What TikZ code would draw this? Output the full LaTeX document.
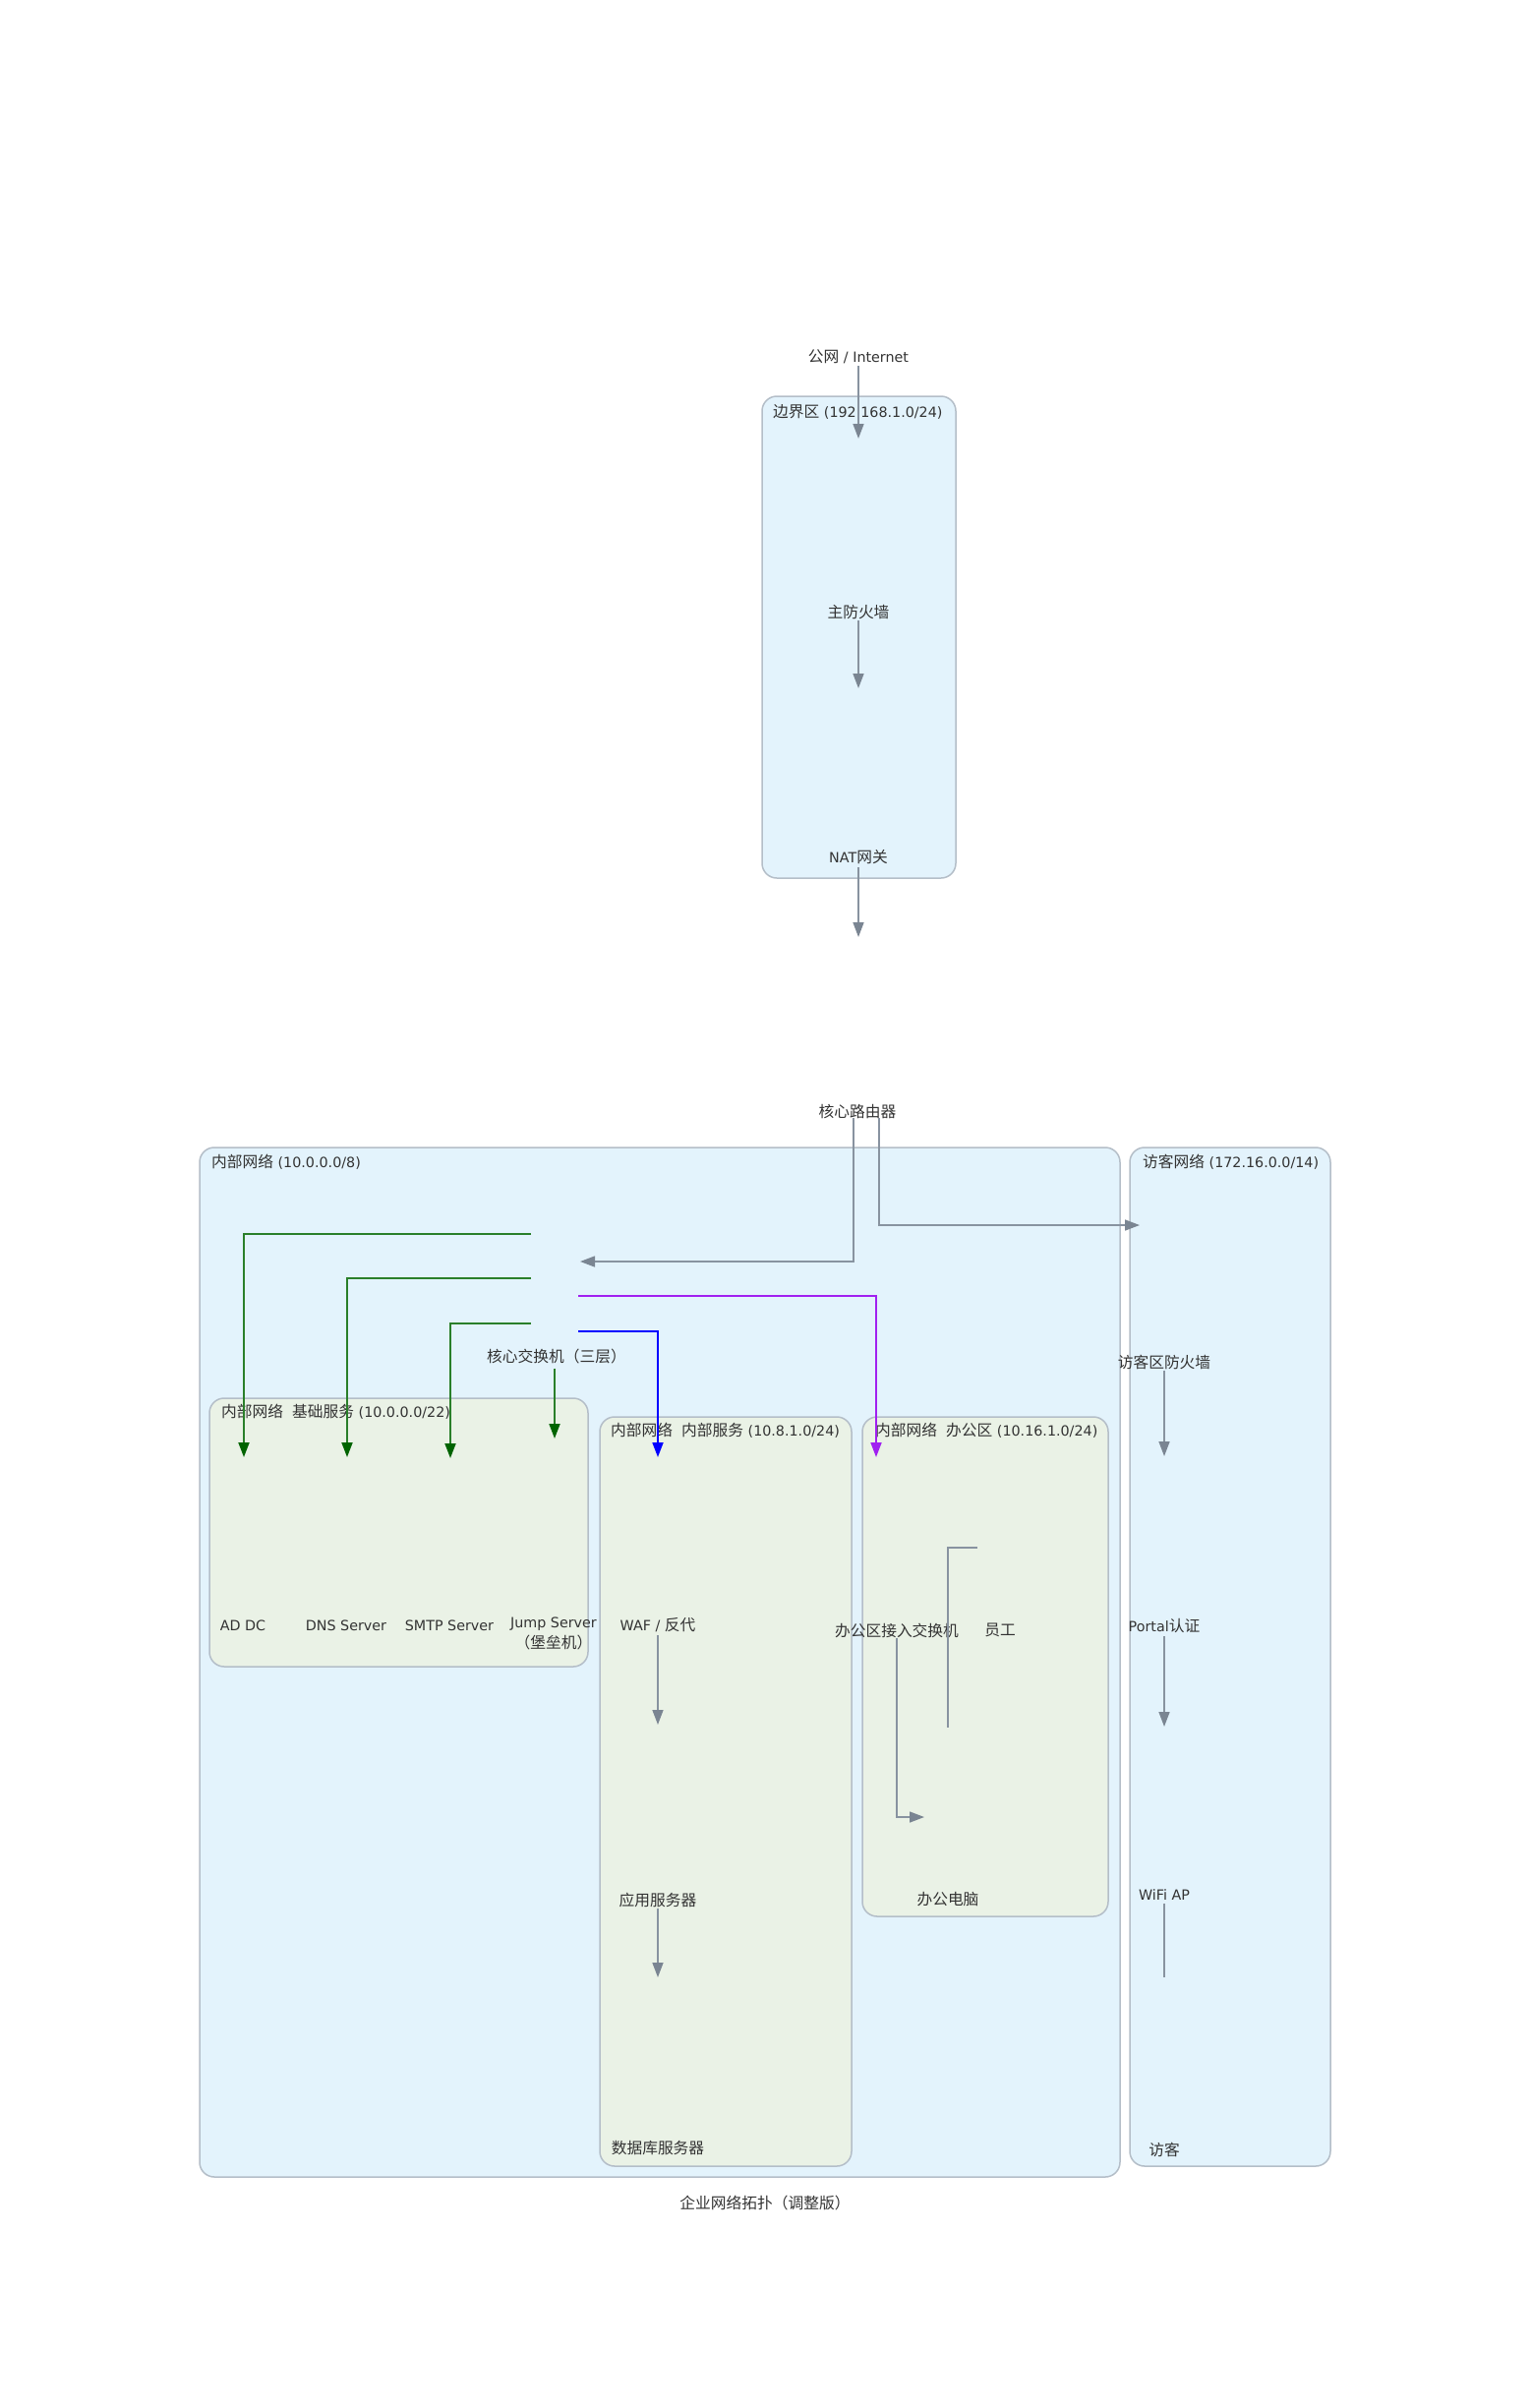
\documentclass[tikz,border=0pt]{standalone}
\usepackage{fontspec}
\setmainfont{DejaVu Sans}
\newfontfamily\cjk{Noto Sans CJK SC}[Scale=1.1]
\usetikzlibrary{arrows.meta}
\definecolor{outerfill}{HTML}{E3F3FC}
\definecolor{innerfill}{HTML}{EAF2E6}
\definecolor{boxline}{HTML}{B4BEC8}
\definecolor{edgegrey}{HTML}{8893A0}
\definecolor{tipgrey}{HTML}{7A8592}
\definecolor{txt}{HTML}{333333}
\definecolor{grn}{HTML}{2A7F2A}
\definecolor{grntip}{HTML}{006400}
\definecolor{prp}{HTML}{A020F0}
\definecolor{blu}{HTML}{0000FF}
\begin{document}
\begin{tikzpicture}[x=1pt,y=-1pt,
  zone/.style={draw=boxline, line width=1.5pt, rounded corners=15pt},
  lbl/.style={text=txt, inner sep=0pt, font=\fontsize{14.3}{21}\selectfont},
  glbl/.style={lbl, anchor=west},
  edge/.style={draw=edgegrey, line width=1.5pt, -{Triangle[length=15pt,width=11pt,color=tipgrey]}},
  plain/.style={draw=edgegrey, line width=1.5pt},
  gedge/.style={draw=grn, line width=1.8pt, -{Triangle[length=15pt,width=11pt,color=grntip]}},
  bedge/.style={draw=blu, line width=1.8pt, -{Triangle[length=15pt,width=11pt,color=blu]}},
  pedge/.style={draw=prp, line width=1.8pt, -{Triangle[length=15pt,width=11pt,color=prp]}}]
\useasboundingbox (0,0) rectangle (1556,2449);
\fill[white] (0,0) rectangle (1556,2449);

% zones
\draw[zone, fill=outerfill] (775,403) rectangle (972,893);
\draw[zone, fill=outerfill] (203,1167) rectangle (1139,2214);
\draw[zone, fill=outerfill] (1149,1167) rectangle (1353,2203);
\draw[zone, fill=innerfill] (213,1422) rectangle (598,1695);
\draw[zone, fill=innerfill] (610,1441) rectangle (866,2203);
\draw[zone, fill=innerfill] (877,1441) rectangle (1127,1949);

% zone labels
\node[glbl] (bzlbl) at (786,419) {{\cjk 边界区} (192.168.1.0/24)};
\node[glbl] (inlbl) at (215,1182) {{\cjk 内部网络} (10.0.0.0/8)};
\node[glbl] (gulbl) at (1162,1182) {{\cjk 访客网络} (172.16.0.0/14)};
\node[glbl] (bslbl) at (225,1436) {{\cjk 内部网络}\ \ {\cjk 基础服务} (10.0.0.0/22)};
\node[glbl] (islbl) at (621,1455) {{\cjk 内部网络}\ \ {\cjk 内部服务} (10.8.1.0/24)};
\node[glbl] (oflbl) at (890,1455) {{\cjk 内部网络}\ \ {\cjk 办公区} (10.16.1.0/24)};

% nodes
\node[lbl] (inet) at (873,363) {{\cjk 公网} / Internet};
\node[lbl] (fw) at (873,623) {\cjk 主防火墙};
\node[lbl] (nat) at (873,872) {NAT{\cjk 网关}};
\node[lbl] (router) at (872,1130) {\cjk 核心路由器};
\node[lbl] (cs) at (566,1380) {\cjk 核心交换机（三层）};
\node[lbl] (ad) at (247,1653) {AD DC};
\node[lbl] (dns) at (352,1653) {DNS Server};
\node[lbl] (smtp) at (457,1653) {SMTP Server};
\node[lbl, align=center, anchor=north] (jump) at (563,1645) {Jump Server\\{\cjk （堡垒机）}};
\node[lbl] (waf) at (669,1653) {WAF / {\cjk 反代}};
\node[lbl] (app) at (669,1932) {\cjk 应用服务器};
\node[lbl] (db) at (669,2185) {\cjk 数据库服务器};
\node[lbl] (acc) at (912,1658) {\cjk 办公区接入交换机};
\node[lbl] (emp) at (1017,1658) {\cjk 员工};
\node[lbl] (pc) at (964,1932) {\cjk 办公电脑};
\node[lbl] (gfw) at (1184,1385) {\cjk 访客区防火墙};
\node[lbl] (portal) at (1184,1654) {Portal{\cjk 认证}};
\node[lbl] (wifi) at (1184,1927) {WiFi AP};
\node[lbl] (guest) at (1184,2186) {\cjk 访客};
\node[lbl] (title) at (778,2240) {\cjk 企业网络拓扑（调整版）};

% free ends
\coordinate (fwin) at (873,446);
\coordinate (natin) at (873,700);
\coordinate (rtin) at (873,953);
\coordinate (csin) at (590,1283);
\coordinate (guin) at (1159,1246);
\coordinate (csg1) at (540,1255);
\coordinate (csg2) at (540,1300);
\coordinate (csg3) at (540,1346);
\coordinate (csp) at (588,1318);
\coordinate (csb) at (588,1354);
\coordinate (adin) at (248,1482);
\coordinate (dnsin) at (353,1482);
\coordinate (smtpin) at (458,1483);
\coordinate (jumpin) at (564,1463);
\coordinate (isin) at (669,1482);
\coordinate (ofin) at (891,1482);
\coordinate (appin) at (669,1754);
\coordinate (dbin) at (669,2011);
\coordinate (empout) at (994,1574);
\coordinate (empend) at (964,1757);
\coordinate (pcin) at (940,1848);
\coordinate (portalin) at (1184,1481);
\coordinate (wifiin) at (1184,1756);
\coordinate (guestin) at (1184,2011);

% connectors
\draw[edge] ([yshift=-2pt]inet.south) -- (fwin);
\draw[edge] ([yshift=-1pt]fw.south) -- (natin);
\draw[edge] ([yshift=-3pt]nat.south) -- (rtin);
\draw[edge] ([xshift=-4pt]router.south) |- (csin);
\draw[edge] ([xshift=22pt]router.south) |- (guin);
\draw[gedge] (csg1) -| (adin);
\draw[gedge] (csg2) -| (dnsin);
\draw[gedge] (csg3) -| (smtpin);
\draw[gedge] ([xshift=-2pt,yshift=-4pt]cs.south) -- (jumpin);
\draw[pedge] (csp) -| (ofin);
\draw[bedge] (csb) -| (isin);
\draw[edge] ([yshift=-3pt]waf.south) -- (appin);
\draw[edge] ([yshift=-1pt]app.south) -- (dbin);
\draw[plain] (empout) -| (empend);
\draw[edge] (acc.south) |- (pcin);
\draw[edge] ([yshift=-1pt]gfw.south) -- (portalin);
\draw[edge] ([yshift=-3pt]portal.south) -- (wifiin);
\draw[plain] ([yshift=-3pt]wifi.south) -- (guestin);
\end{tikzpicture}
\end{document}
